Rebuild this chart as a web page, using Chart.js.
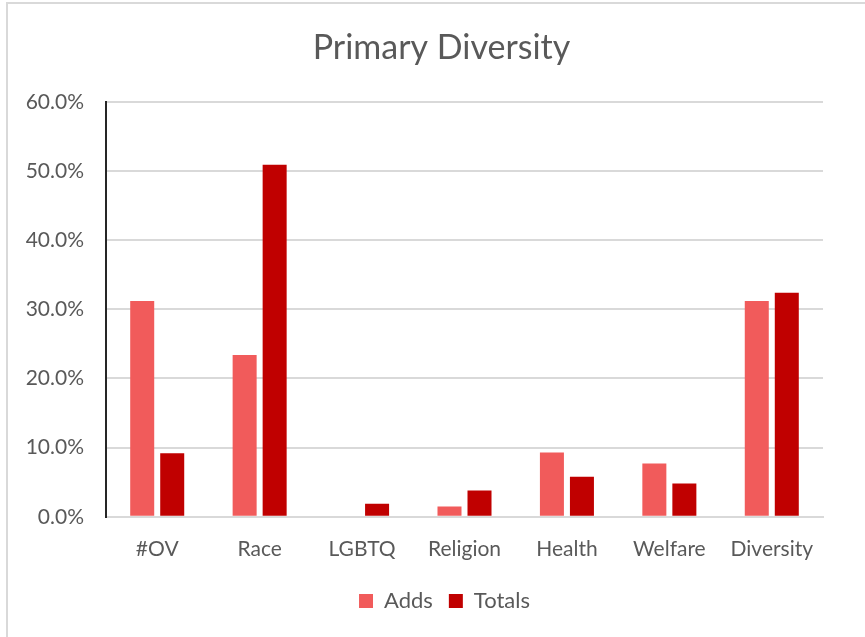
<!DOCTYPE html>
<html>
<head>
<meta charset="utf-8">
<script src="https://cdn.jsdelivr.net/npm/chart.js@4"></script>
<style>
    body { margin: 0; background: #fff; }
    #frame {
        position: absolute; left: 6px; top: 2px; width: 859px; height: 635px;
        border-top: 2px solid #d9d9d9; border-left: 2px solid #d9d9d9;
        box-sizing: border-box;
    }
    #wrap { position: absolute; left: 0; top: 0; width: 865px; height: 637px; }
</style>
</head>
<body>
<div id="frame"></div>
<div id="wrap"><canvas id="chart" width="865" height="637"></canvas></div>
<script>
"use strict";

const categories = ["#OV", "Race", "LGBTQ", "Religion", "Health", "Welfare", "Diversity"];
const adds = [31.2, 23.4, 0, 1.5, 9.3, 7.7, 31.2];
const totals = [9.2, 50.9, 1.9, 3.8, 5.8, 4.8, 32.4];
const yTicks = [0, 10, 20, 30, 40, 50, 60];

const textColor = '#595959';
const fontFamily = 'Lato, "Open Sans", sans-serif';

// title and legend sit centred on the outer frame, not on the plot
const centerOnFrame = {
    id: 'centerOnFrame',
    afterLayout(chart) {
        chart.titleBlock.left += 30;
        chart.titleBlock.right += 30;
        chart.legend.left += 33;
        chart.legend.right += 33;
    }
};

const ctx = document.getElementById('chart').getContext('2d');
const chart = new Chart(ctx, {
    type: 'bar',
    data: {
        labels: categories,
        datasets: [{
            label: 'Adds',
            data: adds,
            backgroundColor: '#f15b5b'
        }, {
            label: 'Totals',
            data: totals,
            backgroundColor: '#c00000'
        }]
    },
    options: {
        responsive: false,
        animation: false,
        layout: { padding: { left: 0, right: 42, top: 0, bottom: 15 } },
        datasets: {
            bar: { categoryPercentage: 0.586, barPercentage: 0.8 }
        },
        plugins: {
            title: {
                display: true,
                text: 'Primary Diversity',
                color: textColor,
                font: { family: fontFamily, size: 34, weight: 'normal' },
                padding: { top: 28, bottom: 33 }
            },
            legend: {
                position: 'bottom',
                labels: {
                    color: textColor,
                    font: { family: fontFamily, size: 22 },
                    boxWidth: 14,
                    boxHeight: 14,
                    padding: 16
                }
            },
            tooltip: { enabled: false }
        },
        scales: {
            x: {
                grid: { display: false },
                border: { color: '#d9d9d9', width: 2 },
                ticks: {
                    color: textColor,
                    font: { family: fontFamily, size: 21 },
                    padding: 12
                }
            },
            y: {
                min: 0,
                max: 60,
                afterBuildTicks: function (scale) {
                    scale.ticks = yTicks.map(v => ({ value: v }));
                },
                afterFit: function (scale) {
                    scale.width = 106;
                },
                grid: { color: '#d9d9d9', lineWidth: 2, drawTicks: false },
                border: { color: '#262626', width: 2 },
                ticks: {
                    color: textColor,
                    font: { family: fontFamily, size: 21 },
                    padding: 22,
                    callback: v => v.toFixed(1) + '%'
                }
            }
        }
    },
    plugins: [centerOnFrame]
});
</script>
</body>
</html>
